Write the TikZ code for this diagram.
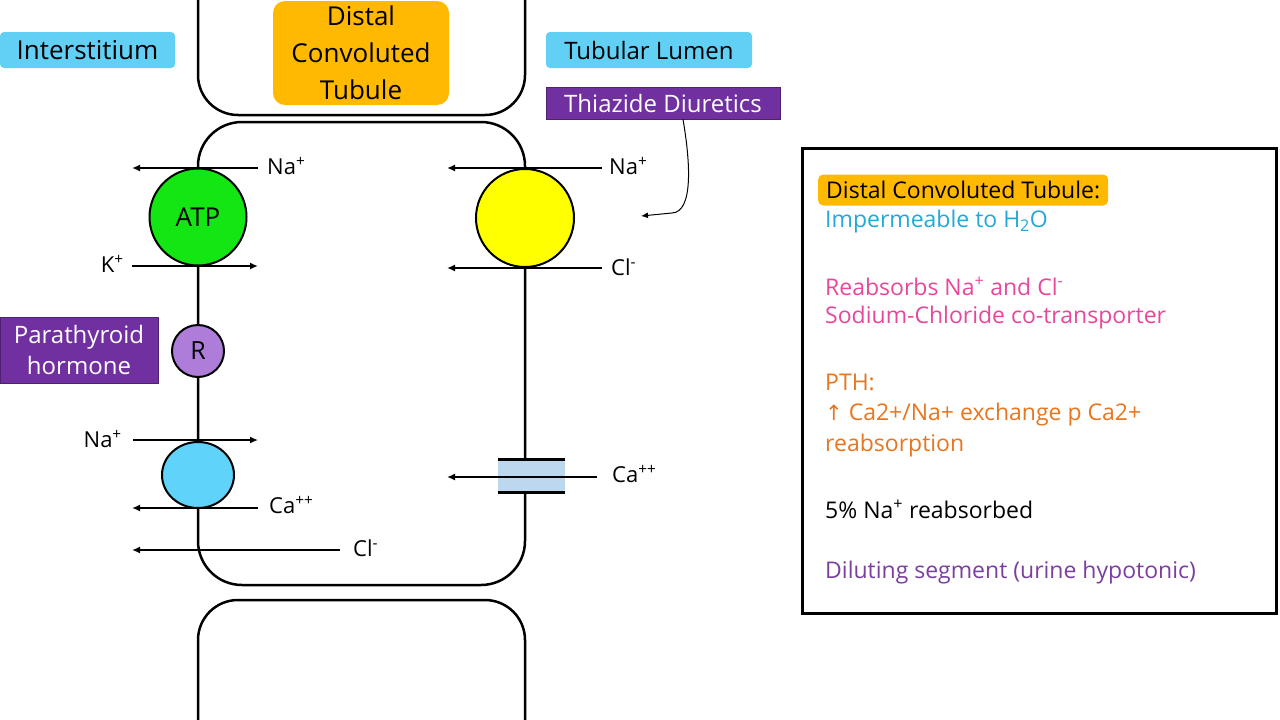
\documentclass[tikz,border=0pt]{standalone}
\usepackage{fontspec}
\setmainfont{Open Sans}
\newfontfamily\dejavu{DejaVu Sans}
\usetikzlibrary{arrows.meta,shapes.geometric}
\definecolor{labblue}{HTML}{62CFF4}
\definecolor{dctorange}{HTML}{FFB900}
\definecolor{boxpurple}{HTML}{7030A0}
\definecolor{rpurple}{HTML}{AE7DDA}
\definecolor{atpgreen}{HTML}{14E614}
\definecolor{cotyellow}{HTML}{FFFF00}
\definecolor{exblue}{HTML}{5FD3F9}
\definecolor{chanblue}{HTML}{BDD7EE}
\definecolor{txtcyan}{HTML}{22A8D9}
\definecolor{txtpink}{HTML}{E8479B}
\definecolor{txtorange}{HTML}{E8761E}
\definecolor{txtpurple}{HTML}{7B3FA0}
\newcommand{\fs}[1]{\fontsize{#1}{#1}\selectfont}
\begin{document}
\begin{tikzpicture}[x=1pt,y=-1pt,
  membrane/.style={line width=2.5pt},
  ion/.style={line width=1.8pt,-{Latex[length=8pt,width=7pt]}},
  ionlab/.style={font=\fs{22}, inner sep=0pt},
  tag/.style={fill=labblue, rounded corners=4pt, inner sep=0pt, font=\fs{24}},
  pbox/.style={fill=boxpurple, draw=boxpurple!70!black, line width=0.8pt, inner sep=0pt, text=white},
  boxline/.style={anchor=west, inner sep=0pt, font=\fs{23}},
]
\useasboundingbox (0,0) rectangle (1280,720);
\fill[white] (0,0) rectangle (1280,720);

% cells
\draw[membrane, rounded corners=40pt] (198,-10) -- (198,115) -- (525,115) -- (525,-10);
\draw[membrane, rounded corners=44pt] (198,122) rectangle (525,585);
\draw[membrane, rounded corners=40pt] (198,730) -- (198,600) -- (525,600) -- (525,730);

% labels
\node[tag, minimum width=175pt, minimum height=36pt, font=\fs{26}] (inter) at (87.5,50) {Interstitium};
\node[tag, minimum width=206pt, minimum height=36pt] (lumen) at (649,50) {Tubular Lumen};
\node[fill=dctorange, rounded corners=12pt, minimum width=176pt, minimum height=104pt, inner sep=0pt,
      align=center, font=\fontsize{26}{37}\selectfont] (dct) at (361,53) {Distal\\Convoluted\\Tubule};
\node[pbox, minimum width=234pt, minimum height=32pt, font=\fs{24}] (thz) at (663,103) {Thiazide Diuretics};
\node[pbox, minimum width=158pt, minimum height=66pt, align=center, font=\fontsize{24}{31}\selectfont] (pth) at (79,350) {Parathyroid\\hormone};

% transporters
\node[circle, draw, line width=2pt, fill=atpgreen, minimum size=97pt, inner sep=0pt, font=\fs{26}] (atp) at (198,217) {ATP};
\node[circle, draw, line width=2pt, fill=cotyellow, minimum size=98pt, inner sep=0pt] (nacl) at (525,218) {};
\node[ellipse, draw, line width=2pt, fill=rpurple, minimum width=52pt, minimum height=52pt, inner sep=0pt, font=\fs{25}] (rec) at (198,351) {R};
\node[ellipse, draw, line width=2pt, fill=exblue, minimum width=72pt, minimum height=66pt, inner sep=0pt] (exch) at (198,475) {};
\node[fill=chanblue, minimum width=67pt, minimum height=32pt, inner sep=0pt] (chan) at (531.5,476) {};
\draw[line width=3pt] (chan.north west) -- (chan.north east);
\draw[line width=3pt] (chan.south west) -- (chan.south east);

% arrow end points
\coordinate (a1s) at (258,168); \coordinate (a1e) at (132,168);
\coordinate (a2s) at (132,266); \coordinate (a2e) at (258,266);
\coordinate (a3s) at (602,168); \coordinate (a3e) at (447,168);
\coordinate (a4s) at (602,268); \coordinate (a4e) at (447,268);
\coordinate (a5s) at (133,440); \coordinate (a5e) at (258,440);
\coordinate (a6s) at (258,508); \coordinate (a6e) at (132,508);
\coordinate (a7s) at (340,550); \coordinate (a7e) at (132,550);
\coordinate (a8s) at (597,477); \coordinate (a8e) at (447,477);
\coordinate (thzend) at (641,216);

\draw[ion] (a1s) -- (a1e);
\draw[ion] (a2s) -- (a2e);
\draw[ion] (a3s) -- (a3e);
\draw[ion] (a4s) -- (a4e);
\draw[ion] (a5s) -- (a5e);
\draw[ion] (a6s) -- (a6e);
\draw[ion] (a7s) -- (a7e);
\draw[ion] (a8s) -- (a8e);
\draw[line width=1pt, -{Latex[length=7pt,width=6pt]}] ([xshift=20pt]thz.south) .. controls (690,160) and (694,212) .. (672,213) -- (thzend);

% ion labels
\node[ionlab, anchor=west] (l1) at (267,166) {Na\textsuperscript{+}};
\node[ionlab, anchor=east] (l2) at (124,264) {K\textsuperscript{+}};
\node[ionlab, anchor=west] (l3) at (609,166) {Na\textsuperscript{+}};
\node[ionlab, anchor=west] (l4) at (611,267) {Cl\textsuperscript{-}};
\node[ionlab, anchor=east] (l5) at (122,439) {Na\textsuperscript{+}};
\node[ionlab, anchor=west] (l6) at (269,505) {Ca\textsuperscript{++}};
\node[ionlab, anchor=west] (l7) at (353,548) {Cl\textsuperscript{-}};
\node[ionlab, anchor=west] (l8) at (612,474) {Ca\textsuperscript{++}};

% info box
\node[draw, line width=2.5pt, minimum width=474pt, minimum height=465pt, inner sep=0pt, anchor=north west] (info) at (801,147) {};
\node[boxline, fill=dctorange, rounded corners=5pt, inner xsep=8pt, minimum height=31pt] (t1) at (818,190) {Distal Convoluted Tubule:};
\node[boxline, text=txtcyan] (t2) at (825,222) {Impermeable to H\textsubscript{2}O};
\node[boxline, text=txtpink] (t3) at (825,286) {Reabsorbs Na\textsuperscript{+} and Cl\textsuperscript{-}};
\node[boxline, text=txtpink] (t4) at (825,318) {Sodium-Chloride co-transporter};
\node[boxline, text=txtorange] (t5) at (825,382) {PTH:};
\node[boxline, text=txtorange] (t6) at (825,415) {{\dejavu\fs{21}↑} Ca2+/Na+ exchange p Ca2+};
\node[boxline, text=txtorange] (t7) at (825,446) {reabsorption};
\node[boxline] (t8) at (825,509) {5\% Na\textsuperscript{+} reabsorbed};
\node[boxline, text=txtpurple] (t9) at (825,573) {Diluting segment (urine hypotonic)};
\end{tikzpicture}
\end{document}
